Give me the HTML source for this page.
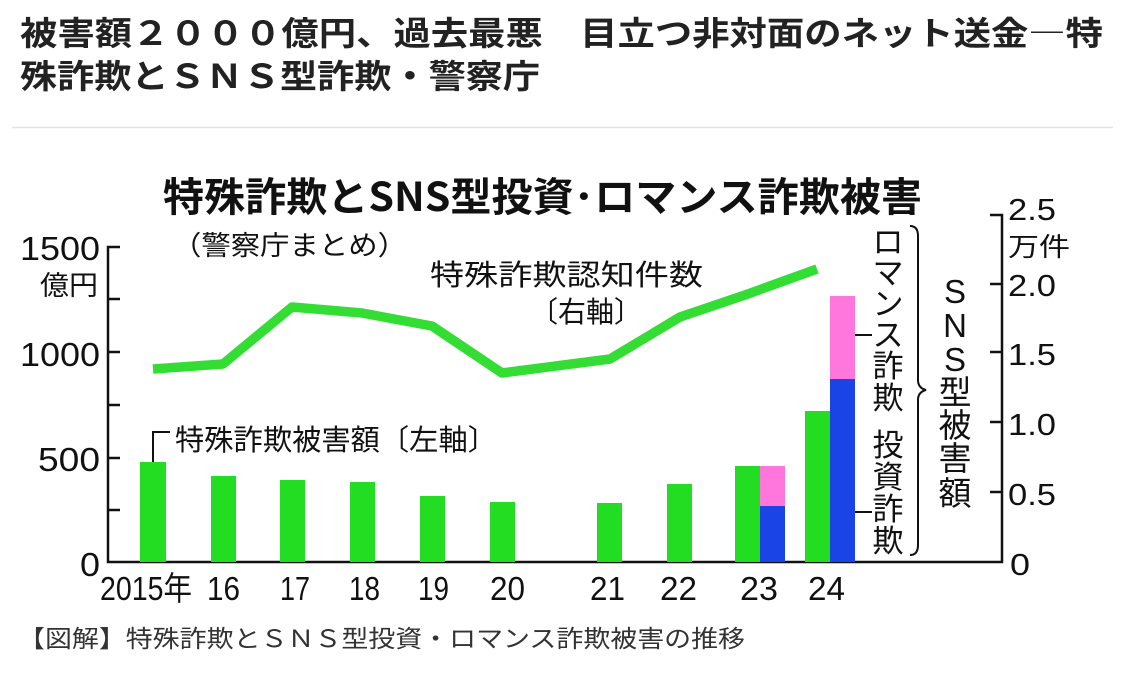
<!DOCTYPE html>
<html><head><meta charset="utf-8"><style>
html,body{margin:0;padding:0;background:#fff;}
svg{display:block;}
text{font-family:"Liberation Sans","Noto Sans CJK JP",sans-serif;}
.j{font-family:"Noto Sans CJK JP",sans-serif;}
</style></head><body>
<svg width="1125" height="682" viewBox="0 0 1125 682" xmlns="http://www.w3.org/2000/svg">
<rect width="1125" height="682" fill="#fff"/>
<g class="j" font-weight="bold" fill="#222" font-size="33">
<text class="j" x="20" y="45" textLength="1083" lengthAdjust="spacingAndGlyphs">被害額２０００億円、過去最悪　目立つ非対面のネット送金―特</text>
<text class="j" x="20" y="88" textLength="520" lengthAdjust="spacingAndGlyphs">殊詐欺とＳＮＳ型詐欺・警察庁</text>
</g>
<line x1="12" y1="127.5" x2="1113" y2="127.5" stroke="#e2e2e2" stroke-width="1.5"/>

<text class="j" x="163" y="211" font-size="40" font-weight="bold" fill="#111" textLength="759" lengthAdjust="spacingAndGlyphs">特殊詐欺とSNS型投資･ロマンス詐欺被害</text>
<text class="j" x="172" y="255" font-size="27" fill="#111" textLength="235" lengthAdjust="spacingAndGlyphs">（警察庁まとめ）</text>

<g stroke="#111" stroke-width="2.5" fill="none">
<polyline points="120,247 108,247 108,562 1002,562 1002,215 990,215"/>
<line x1="108" y1="299" x2="120" y2="299"/>
<line x1="108" y1="352" x2="120" y2="352"/>
<line x1="108" y1="405" x2="120" y2="405"/>
<line x1="108" y1="458" x2="120" y2="458"/>
<line x1="108" y1="510" x2="120" y2="510"/>
<line x1="990" y1="284" x2="1002" y2="284"/>
<line x1="990" y1="352" x2="1002" y2="352"/>
<line x1="990" y1="422" x2="1002" y2="422"/>
<line x1="990" y1="492" x2="1002" y2="492"/>
</g>

<g font-size="33" fill="#111">
<text x="20" y="260" textLength="80" lengthAdjust="spacingAndGlyphs">1500</text>
<text x="20" y="366" textLength="80" lengthAdjust="spacingAndGlyphs">1000</text>
<text x="38" y="471" textLength="62" lengthAdjust="spacingAndGlyphs">500</text>
<text x="80" y="576" textLength="20" lengthAdjust="spacingAndGlyphs">0</text>
</g>
<text class="j" x="40" y="295" font-size="27" fill="#111" textLength="58" lengthAdjust="spacingAndGlyphs">億円</text>

<g font-size="31" fill="#111">
<text x="1008" y="220" textLength="48" lengthAdjust="spacingAndGlyphs">2.5</text>
<text x="1008" y="296" textLength="48" lengthAdjust="spacingAndGlyphs">2.0</text>
<text x="1008" y="365" textLength="48" lengthAdjust="spacingAndGlyphs">1.5</text>
<text x="1008" y="435" textLength="48" lengthAdjust="spacingAndGlyphs">1.0</text>
<text x="1008" y="505" textLength="48" lengthAdjust="spacingAndGlyphs">0.5</text>
<text x="1010" y="575" textLength="20" lengthAdjust="spacingAndGlyphs">0</text>
</g>
<text class="j" x="1008" y="256" font-size="26" fill="#111" textLength="62" lengthAdjust="spacingAndGlyphs">万件</text>

<g font-size="33" fill="#111">
<text x="100" y="600" textLength="92" lengthAdjust="spacingAndGlyphs">2015年</text>
<text x="207" y="600" textLength="33" lengthAdjust="spacingAndGlyphs">16</text>
<text x="280" y="600" textLength="30" lengthAdjust="spacingAndGlyphs">17</text>
<text x="349" y="600" textLength="31" lengthAdjust="spacingAndGlyphs">18</text>
<text x="418" y="600" textLength="31" lengthAdjust="spacingAndGlyphs">19</text>
<text x="490" y="600" textLength="35" lengthAdjust="spacingAndGlyphs">20</text>
<text x="590" y="600" textLength="35" lengthAdjust="spacingAndGlyphs">21</text>
<text x="660" y="600" textLength="37" lengthAdjust="spacingAndGlyphs">22</text>
<text x="740" y="600" textLength="38" lengthAdjust="spacingAndGlyphs">23</text>
<text x="808" y="600" textLength="37" lengthAdjust="spacingAndGlyphs">24</text>
</g>

<g fill="#22dd22">
<rect x="140" y="462" width="26" height="100"/>
<rect x="211" y="476" width="25" height="86"/>
<rect x="280" y="480" width="25" height="82"/>
<rect x="350" y="482" width="25" height="80"/>
<rect x="420" y="496" width="25" height="66"/>
<rect x="490" y="502" width="25" height="60"/>
<rect x="597" y="503" width="25" height="59"/>
<rect x="667" y="484" width="25" height="78"/>
<rect x="735" y="466" width="25" height="96"/>
<rect x="805" y="411" width="25" height="151"/>
</g>
<rect x="760" y="466" width="25" height="40" fill="#ff77dd"/>
<rect x="760" y="506" width="25" height="56" fill="#1a44e6"/>
<rect x="830" y="296" width="25" height="83" fill="#ff77dd"/>
<rect x="830" y="379" width="25" height="183" fill="#1a44e6"/>

<polyline points="153,369 223,364 292,307 362,313 432,326 502,373 610,359 680,317 745,295 817,269" fill="none" stroke="#33dd33" stroke-width="9.5" stroke-linejoin="round" stroke-linecap="butt"/>

<g class="j" font-size="29" fill="#111">
<text class="j" x="430" y="285" textLength="273" lengthAdjust="spacingAndGlyphs">特殊詐欺認知件数</text>
<text class="j" x="530" y="322" textLength="112" lengthAdjust="spacingAndGlyphs">〔右軸〕</text>
<text class="j" x="175" y="450" textLength="322" lengthAdjust="spacingAndGlyphs">特殊詐欺被害額〔左軸〕</text>
</g>
<polyline points="153,462 153,432 170,432" fill="none" stroke="#111" stroke-width="2"/>

<g class="j" font-size="31" fill="#111" text-anchor="middle">
<text class="j" x="888" y="253">ロ</text>
<text class="j" x="888" y="284">マ</text>
<text class="j" x="888" y="315">ン</text>
<text class="j" x="888" y="346">ス</text>
<text class="j" x="888" y="377">詐</text>
<text class="j" x="888" y="409">欺</text>
<text class="j" x="888" y="456">投</text>
<text class="j" x="888" y="488">資</text>
<text class="j" x="888" y="520">詐</text>
<text class="j" x="888" y="552">欺</text>
</g>
<g font-size="33" fill="#111" text-anchor="middle">
<text x="955" y="303">S</text>
<text x="955" y="337">N</text>
<text x="955" y="371">S</text>
<text class="j" x="955" y="404">型</text>
<text class="j" x="955" y="437">被</text>
<text class="j" x="955" y="470">害</text>
<text class="j" x="955" y="505">額</text>
</g>
<path d="M910,226 Q918,226 918,236 L918,380 Q918,388 926,390 Q918,392 918,400 L918,545 Q918,555 910,555" fill="none" stroke="#111" stroke-width="2"/>
<line x1="855" y1="335" x2="872" y2="335" stroke="#111" stroke-width="2"/>
<line x1="855" y1="512" x2="872" y2="512" stroke="#111" stroke-width="2"/>

<text class="j" x="18" y="647" font-size="24" fill="#333" textLength="727" lengthAdjust="spacingAndGlyphs">【図解】特殊詐欺とＳＮＳ型投資・ロマンス詐欺被害の推移</text>
</svg>
</body></html>
